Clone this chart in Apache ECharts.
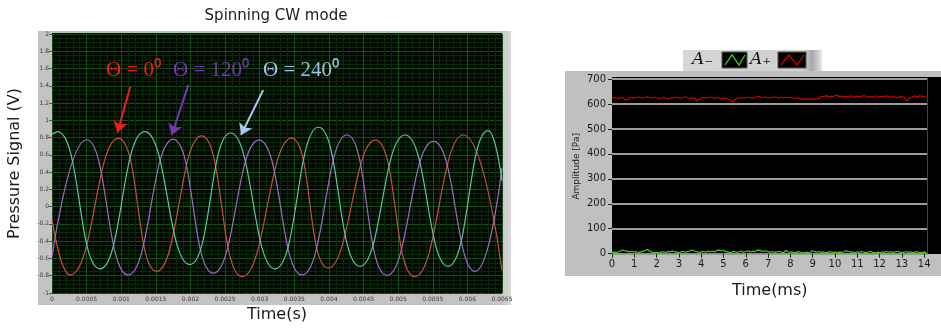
<!DOCTYPE html>
<html>
<head>
<meta charset="utf-8">
<script src="https://cdn.jsdelivr.net/npm/echarts@6/dist/echarts.min.js"></script>
<style>
  html, body { margin: 0; padding: 0; background: #ffffff; }
  #chart { width: 941px; height: 331px; }
</style>
</head>
<body>
<div id="chart"></div>
<script>
// ---- Left panel: three pressure transducers, [time (s), signal (V)] at curve extrema ----
const sensorTheta0 = [
  [0, -0.15], [0.00026, -0.79], [0.000958, 0.79], [0.00151, -0.75], [0.00216, 0.82],
  [0.00275, -0.81], [0.00346, 0.795], [0.00399, -0.71], [0.00467, 0.77], [0.00524, -0.81],
  [0.00594, 0.83], [0.0065, -0.74]
];
const sensorTheta120 = [
  [0, -0.58], [0.0005, 0.775], [0.0011, -0.79], [0.00175, 0.78], [0.00233, -0.77],
  [0.00299, 0.77], [0.00361, -0.79], [0.00426, 0.83], [0.00484, -0.795], [0.00551, 0.756],
  [0.00611, -0.75], [0.0065, 0.45]
];
const sensorTheta240 = [
  [0, 0.84], [0.000077, 0.87], [0.000693, -0.72], [0.00134, 0.87], [0.00199, -0.67],
  [0.00258, 0.853], [0.00322, -0.72], [0.00385, 0.92], [0.00445, -0.69], [0.0051, 0.83],
  [0.00572, -0.69], [0.0063, 0.88], [0.0065, 0.3]
];
const timeTicksS = { min: 0, max: 0.0065, step: 0.0005 };
const voltTicks = { min: -1, max: 2, step: 0.2 };

// ---- Right panel: mode amplitudes A- and A+ (Pa), one sample every 0.1 ms ----
const sampleStepMs = 0.1;
const ampPlus = [
  623, 626, 624, 621, 625, 627, 614, 619, 624, 626,
  622, 626, 628, 625, 623, 627, 629, 626, 624, 627,
  625, 621, 624, 627, 625, 620, 623, 626, 624, 628,
  625, 622, 626, 629, 624, 621, 626, 624, 612, 619,
  624, 627, 623, 626, 628, 625, 622, 627, 624, 621,
  625, 623, 620, 618, 608, 616, 622, 625, 623, 626,
  624, 627, 625, 622, 626, 629, 631, 627, 625, 628,
  624, 627, 625, 629, 626, 623, 627, 625, 628, 624,
  627, 625, 622, 626, 620, 619, 619, 620, 619, 619,
  620, 619, 620, 621, 632, 629, 634, 628, 631, 630,
  633, 636, 630, 632, 628, 631, 629, 633, 630, 627,
  632, 629, 631, 634, 629, 627, 631, 628, 632, 630,
  627, 631, 629, 633, 630, 628, 631, 627, 624, 629,
  630, 627, 613, 618, 626, 630, 632, 629, 633, 631,
  628, 630
];
const ampMinus = [
  4, 6, 5, 8, 12, 15, 11, 9, 7, 10,
  6, 8, 5, 7, 9, 14, 16, 10, 6, 4,
  5, 3, 6, 8, 5, 9, 7, 12, 8, 6,
  4, 7, 9, 6, 8, 12, 15, 11, 8, 5,
  7, 9, 6, 10, 8, 11, 7, 13, 15, 11,
  14, 8, 6, 4, 7, 9, 5, 8, 11, 6,
  9, 12, 7, 10, 8, 13, 15, 11, 9, 12,
  8, 6, 9, 5, 7, 10, 6, 4, 13, 8,
  5, 7, 4, 6, 8, 5, 3, 6, 4, 7,
  12, 8, 6, 9, 5, 7, 4, 6, 8, 5,
  7, 4, 6, 5, 8, 12, 9, 6, 7, 4,
  8, 5, 9, 6, 4, 7, 10, 5, 3, 6,
  4, 7, 5, 9, 6, 8, 5, 7, 10, 6,
  4, 6, 9, 5, 7, 4, 6, 8, 5, 4,
  6, 5
];
const cursorMs = 14.15;
const ampTicks = { min: 0, max: 700, step: 100 };

function withTime(values) {
  return values.map((v, i) => [Number((i * sampleStepMs).toFixed(1)), v]);
}

const chart = echarts.init(document.getElementById('chart'), null, { renderer: 'canvas' });

const smallTick = { fontSize: 6, color: '#3a3a3a', fontFamily: 'DejaVu Sans' };
const rightTick = { fontSize: 10, color: '#1a1a1a', fontFamily: 'DejaVu Sans' };
const annFont = 'Liberation Serif';

function arrow(color, from, to) {
  return [
    { coord: from, lineStyle: { color: color, width: 2, type: 'solid' } },
    { coord: to }
  ];
}

const option = {
  animation: false,
  title: {
    text: 'Spinning CW mode',
    left: 271, top: 4, textAlign: 'center',
    textStyle: { fontSize: 15, fontWeight: 'normal', color: '#1a1a1a', fontFamily: 'DejaVu Sans' }
  },
  graphic: [
    // left instrument frame and plot area
    { type: 'rect', z: -3, shape: { x: 38, y: 31, width: 473, height: 274 }, style: { fill: '#c3c3c3' } },
    { type: 'rect', z: -3, shape: { x: 503, y: 31, width: 8, height: 274 },
      style: { fill: new echarts.graphic.LinearGradient(0, 0, 1, 0, [
        { offset: 0, color: '#c8c8c8' }, { offset: 1, color: '#dadada' }]) } },
    { type: 'rect', z: -2, shape: { x: 52, y: 33, width: 450, height: 260 }, style: { fill: '#010a01' } },
    // right instrument frame and plot area
    { type: 'rect', z: -3, shape: { x: 565, y: 71, width: 376, height: 205 }, style: { fill: '#c0c0c0' } },
    { type: 'rect', z: -2, shape: { x: 612, y: 77, width: 329, height: 177 }, style: { fill: '#000000' } },
    // plot legend strip
    { type: 'rect', z: 5, shape: { x: 683, y: 50, width: 139, height: 21 },
      style: { fill: new echarts.graphic.LinearGradient(0, 0, 1, 0, [
        { offset: 0, color: '#d6d6d6' }, { offset: 0.86, color: '#cfcfcf' },
        { offset: 0.93, color: '#a8a8a8' }, { offset: 1, color: '#e8e8e8' }]) } },
    { type: 'text', z: 6, style: { x: 692, y: 60, text: 'A₋', fontSize: 17, fontStyle: 'italic',
      fontFamily: 'DejaVu Serif', fill: '#111', verticalAlign: 'middle' } },
    { type: 'rect', z: 6, shape: { x: 722, y: 52, width: 25, height: 16 },
      style: { fill: '#000', stroke: '#555', lineWidth: 1 } },
    { type: 'polyline', z: 7, shape: { points: [[725, 65], [732, 55], [739, 65], [745, 55]] },
      style: { stroke: '#3fd21a', lineWidth: 1.3, fill: null } },
    { type: 'text', z: 6, style: { x: 750, y: 60, text: 'A₊', fontSize: 17, fontStyle: 'italic',
      fontFamily: 'DejaVu Serif', fill: '#111', verticalAlign: 'middle' } },
    { type: 'rect', z: 6, shape: { x: 778, y: 52, width: 28, height: 16 },
      style: { fill: '#000', stroke: '#555', lineWidth: 1 } },
    { type: 'polyline', z: 7, shape: { points: [[781, 65], [789, 55], [797, 65], [804, 55]] },
      style: { stroke: '#d40000', lineWidth: 1.3, fill: null } },
    // angle annotations
    { type: 'text', z: 6, style: { x: 106, y: 70, text: 'Θ = 0⁰', fontSize: 21, fontFamily: annFont,
      fill: '#f21d1d', verticalAlign: 'middle' } },
    { type: 'text', z: 6, style: { x: 173, y: 70, text: 'Θ = 120⁰', fontSize: 21, fontFamily: annFont,
      fill: '#7a35b0', verticalAlign: 'middle' } },
    { type: 'text', z: 6, style: { x: 263, y: 70, text: 'Θ = 240⁰', fontSize: 21, fontFamily: annFont,
      fill: '#9cc3e8', verticalAlign: 'middle' } }
  ],
  grid: [
    { left: 52, top: 34, width: 450, height: 259, containLabel: false },
    { left: 612, top: 79, width: 315.5, height: 174.7, containLabel: false }
  ],
  xAxis: [
    {
      type: 'value', gridIndex: 0,
      min: timeTicksS.min, max: timeTicksS.max, interval: timeTicksS.step,
      name: 'Time(s)', nameLocation: 'middle', nameGap: 14,
      nameTextStyle: { fontSize: 16, color: '#1a1a1a', fontFamily: 'DejaVu Sans' },
      axisLine: { show: false },
      axisTick: { show: true, length: 3, lineStyle: { color: '#555' } },
      axisLabel: Object.assign({ margin: 3 }, smallTick),
      splitLine: { show: true, lineStyle: { color: '#184f18', width: 1 } },
      minorTick: { show: false, splitNumber: 5 },
      minorSplitLine: { show: true, lineStyle: { color: '#0b2a0b', width: 1 } }
    },
    {
      type: 'value', gridIndex: 1,
      min: 0, max: cursorMs, interval: 1,
      name: 'Time(ms)', nameLocation: 'middle', nameGap: 29,
      nameTextStyle: { fontSize: 16, color: '#1a1a1a', fontFamily: 'DejaVu Sans' },
      axisLine: { show: true, lineStyle: { color: '#8a8a8a', width: 1 } },
      axisTick: { show: true, length: 4, lineStyle: { color: '#222' } },
      axisLabel: Object.assign({ margin: 6, showMaxLabel: false }, rightTick),
      splitLine: { show: false }
    }
  ],
  yAxis: [
    {
      type: 'value', gridIndex: 0,
      min: voltTicks.min, max: voltTicks.max, interval: voltTicks.step,
      name: 'Pressure Signal (V)', nameLocation: 'middle', nameGap: 29,
      nameTextStyle: { fontSize: 16, color: '#1a1a1a', fontFamily: 'DejaVu Sans' },
      axisLine: { show: false },
      axisTick: { show: true, length: 3, lineStyle: { color: '#555' } },
      axisLabel: Object.assign({ margin: 3 }, smallTick),
      splitLine: { show: true, lineStyle: { color: '#184f18', width: 1 } },
      minorTick: { show: false, splitNumber: 4 },
      minorSplitLine: { show: true, lineStyle: { color: '#0b2a0b', width: 1 } }
    },
    {
      type: 'value', gridIndex: 1,
      min: ampTicks.min, max: ampTicks.max, interval: ampTicks.step,
      name: 'Amplitude [Pa]', nameLocation: 'middle', nameGap: 31,
      nameTextStyle: { fontSize: 9, color: '#222', fontFamily: 'DejaVu Sans' },
      axisLine: { show: false },
      axisTick: { show: true, length: 4, lineStyle: { color: '#222' } },
      axisLabel: Object.assign({ margin: 6 }, rightTick),
      splitLine: { show: true, lineStyle: { color: '#9c9c9c', width: 2 } }
    }
  ],
  series: [
    {
      name: 'Θ = 0°', type: 'line', xAxisIndex: 0, yAxisIndex: 0,
      data: sensorTheta0, smooth: 0.5, showSymbol: false, clip: true,
      lineStyle: { color: '#c4503e', width: 1.2 }
    },
    {
      name: 'Θ = 120°', type: 'line', xAxisIndex: 0, yAxisIndex: 0,
      data: sensorTheta120, smooth: 0.5, showSymbol: false, clip: true,
      lineStyle: { color: '#a268c6', width: 1.2 }
    },
    {
      name: 'Θ = 240°', type: 'line', xAxisIndex: 0, yAxisIndex: 0,
      data: sensorTheta240, smooth: 0.5, showSymbol: false, clip: true,
      lineStyle: { color: '#5cc6a2', width: 1.2 }
    },
    {
      name: 'pointers', type: 'line', xAxisIndex: 0, yAxisIndex: 0, data: [],
      markLine: {
        silent: true, symbol: ['none', 'arrow'], symbolSize: 11,
        label: { show: false },
        data: [
          arrow('#f21d1d', [0.00113, 1.39], [0.000946, 0.86]),
          arrow('#7a35b0', [0.00197, 1.41], [0.00173, 0.83]),
          arrow('#a6cbee', [0.00305, 1.35], [0.00273, 0.83])
        ]
      }
    },
    {
      name: 'A-', type: 'line', xAxisIndex: 1, yAxisIndex: 1,
      data: withTime(ampMinus), showSymbol: false,
      lineStyle: { color: '#46d21c', width: 1.2 }
    },
    {
      name: 'A+', type: 'line', xAxisIndex: 1, yAxisIndex: 1,
      data: withTime(ampPlus), showSymbol: false,
      lineStyle: { color: '#d40000', width: 1.2 },
      markLine: {
        silent: true, symbol: ['none', 'none'], label: { show: false },
        lineStyle: { color: '#e00000', width: 1, type: 'solid' },
        data: [{ xAxis: cursorMs }]
      }
    }
  ]
};

chart.setOption(option);
</script>
</body>
</html>
